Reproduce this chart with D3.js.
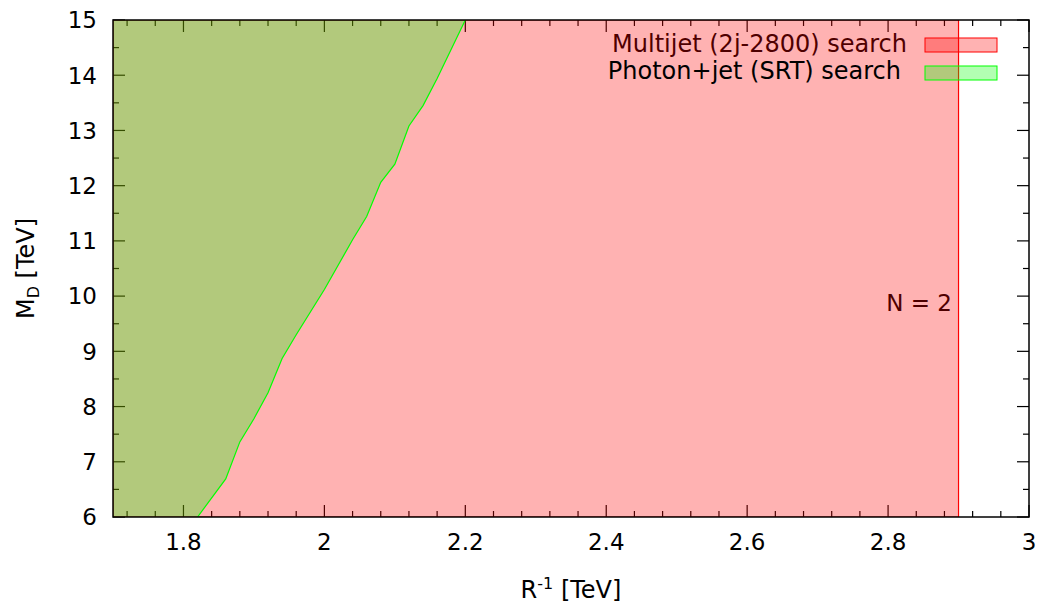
<!DOCTYPE html>
<html>
<head>
<meta charset="utf-8">
<script src="https://cdn.jsdelivr.net/npm/d3@7.9.0/dist/d3.min.js"></script>
<style>
  body { margin: 0; background: #fff; }
  svg { font-family: 'DejaVu Sans', sans-serif; }
</style>
</head>
<body>
<svg id="chart" width="1047" height="610"></svg>
<script>
// Data
const boundaryX = [1.82, 1.86, 1.88, 1.90, 1.92, 1.94, 1.96, 2.00, 2.04, 2.06, 2.08, 2.10, 2.12, 2.14, 2.16, 2.20];
const boundaryY = [6.00, 6.69, 7.36, 7.78, 8.25, 8.87, 9.30, 10.12, 11.02, 11.44, 12.06, 12.39, 13.08, 13.45, 13.94, 15.00];
const multijetLimit = 2.9;
const xTicks = [1.8, 2, 2.2, 2.4, 2.6, 2.8, 3];
const yTicks = [6, 7, 8, 9, 10, 11, 12, 13, 14, 15];
const legendLabels = ['Multijet (2j-2800) search', 'Photon+jet (SRT) search'];

const margin = { left: 113, right: 18, top: 20, bottom: 93 };
const width = 1047, height = 610;

const svg = d3.select('#chart');

const x = d3.scaleLinear().domain([1.7, 3]).range([margin.left, width - margin.right]);
const y = d3.scaleLinear().domain([6, 15]).range([height - margin.bottom, margin.top]);

const [x0, x1] = x.range();
const [y0, y1] = y.range();

svg.append('clipPath').attr('id', 'plot-clip')
  .append('rect')
  .attr('x', x0).attr('y', y1)
  .attr('width', x1 - x0).attr('height', y0 - y1);

// Ticks (drawn first, so the transparent fills lie over them)
const xMinor = d3.range(1.72, 3.0001, 0.04).filter((v) => !xTicks.some((t) => Math.abs(t - v) < 1e-6));
const yMinor = d3.range(6.5, 15, 1);

const ticks = svg.append('g').attr('stroke', '#000').attr('stroke-width', 1.2);

function tickLines(values, len) {
  values.forEach((v) => {
    ticks.append('line').attr('x1', x(v)).attr('x2', x(v)).attr('y1', y0).attr('y2', y0 - len);
    ticks.append('line').attr('x1', x(v)).attr('x2', x(v)).attr('y1', y1).attr('y2', y1 + len);
  });
}
function yTickLines(values, len) {
  values.forEach((v) => {
    ticks.append('line').attr('y1', y(v)).attr('y2', y(v)).attr('x1', x0).attr('x2', x0 + len);
    ticks.append('line').attr('y1', y(v)).attr('y2', y(v)).attr('x1', x1).attr('x2', x1 - len);
  });
}
tickLines(xTicks, 12);
tickLines(xMinor, 6);
yTickLines(yTicks, 12);
yTickLines(yMinor, 6);

// Label inside the plot
svg.append('text')
  .attr('x', 952).attr('y', 311)
  .attr('text-anchor', 'end')
  .attr('font-size', 23)
  .text('N = 2');

const boxX = 925, boxW = 72, boxH = 14;

// Key entry for the multijet search
svg.append('text')
  .attr('x', 907).attr('y', 52)
  .attr('text-anchor', 'end')
  .attr('font-size', 24)
  .text(legendLabels[0]);
svg.append('rect')
  .attr('x', boxX).attr('y', 38).attr('width', boxW).attr('height', boxH)
  .attr('fill', 'rgba(255,0,0,0.3)').attr('stroke', '#ff0000').attr('stroke-width', 1);

// Multijet excluded region
const plot = svg.append('g').attr('clip-path', 'url(#plot-clip)');
const redPoly = [[1.7, 6], [multijetLimit, 6], [multijetLimit, 15], [1.7, 15]];
plot.append('path')
  .attr('d', d3.line().x((d) => x(d[0])).y((d) => y(d[1]))(redPoly) + 'Z')
  .attr('fill', 'rgba(255,0,0,0.3)')
  .attr('stroke', '#ff0000')
  .attr('stroke-width', 1.2);

// Key entry for the photon+jet search
svg.append('text')
  .attr('x', 901).attr('y', 79)
  .attr('text-anchor', 'end')
  .attr('font-size', 24)
  .text(legendLabels[1]);
svg.append('rect')
  .attr('x', boxX).attr('y', 66).attr('width', boxW).attr('height', boxH)
  .attr('fill', 'rgba(0,255,0,0.3)').attr('stroke', '#00ff00').attr('stroke-width', 1);

// Photon+jet excluded region
const boundary = boundaryX.map((v, i) => [v, boundaryY[i]]);
const greenPoly = [[1.7, 6]].concat(boundary, [[1.7, 15]]);
plot.append('path')
  .attr('d', d3.line().x((d) => x(d[0])).y((d) => y(d[1]))(greenPoly) + 'Z')
  .attr('fill', 'rgba(0,255,0,0.3)')
  .attr('stroke', 'none');
plot.append('path')
  .attr('d', d3.line().x((d) => x(d[0])).y((d) => y(d[1]))(boundary))
  .attr('fill', 'none')
  .attr('stroke', '#00ff00')
  .attr('stroke-width', 1.2);

// Border
svg.append('rect')
  .attr('x', x0).attr('y', y1)
  .attr('width', x1 - x0).attr('height', y0 - y1)
  .attr('fill', 'none').attr('stroke', '#000').attr('stroke-width', 1.5);

// Tick labels
svg.append('g').selectAll('text').data(xTicks).join('text')
  .attr('x', (d) => x(d)).attr('y', 550)
  .attr('text-anchor', 'middle')
  .attr('font-size', 23)
  .text((d) => d);

svg.append('g').selectAll('text').data(yTicks).join('text')
  .attr('x', 97).attr('y', (d) => y(d))
  .attr('dy', '0.36em')
  .attr('text-anchor', 'end')
  .attr('font-size', 23)
  .text((d) => d);

// Axis titles
const xTitle = svg.append('text')
  .attr('x', (x0 + x1) / 2).attr('y', 598)
  .attr('text-anchor', 'middle')
  .attr('font-size', 24);
xTitle.append('tspan').text('R');
xTitle.append('tspan').attr('dy', -9).attr('font-size', 16).text('-1');
xTitle.append('tspan').attr('dy', 9).text(' [TeV]');

const yTitle = svg.append('text')
  .attr('transform', `translate(34,${(y0 + y1) / 2}) rotate(-90)`)
  .attr('text-anchor', 'middle')
  .attr('font-size', 24);
yTitle.append('tspan').text('M');
yTitle.append('tspan').attr('dy', 5).attr('font-size', 16).text('D');
yTitle.append('tspan').attr('dy', -5).text(' [TeV]');
</script>
</body>
</html>
